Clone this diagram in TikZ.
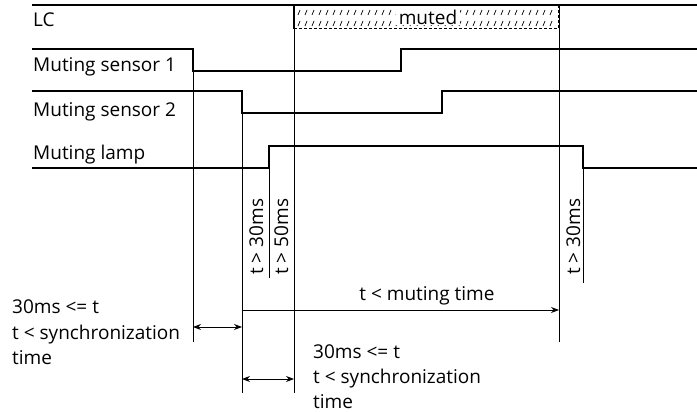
\documentclass[tikz,border=0pt]{standalone}
\usepackage{fontspec}
\setmainfont{Open Sans}
\usetikzlibrary{arrows.meta}
\tikzset{
  sig/.style={line width=1.8pt},
  vline/.style={line width=0.8pt},
  txt/.style={font=\fontsize{19}{22}\selectfont, inner sep=0pt},
  lbl/.style={txt, anchor=base west},
  rlbl/.style={txt, anchor=base west, rotate=90},
  dim/.style={line width=0.9pt, {Stealth[length=8pt,width=6pt]}-{Stealth[length=8pt,width=6pt]}},
  dimr/.style={line width=0.9pt, -{Stealth[length=8pt,width=6pt]}},
  hatch/.style={line width=0.7pt}
}
\begin{document}
\begin{tikzpicture}[x=1pt,y={(0pt,-1pt)}]
\useasboundingbox (0,0) rectangle (697,412);
\fill[white] (0,0) rectangle (697,412);
% key coordinates
\coordinate (A) at (193,0);
\coordinate (B) at (242,0);
\coordinate (C) at (269,0);
\coordinate (D) at (294,0);
\coordinate (E) at (559,0);
\coordinate (F) at (583,0);
% hatch in muted box
\foreach \x in {298,305,...,552} {
  \draw[hatch] (\x,15) -- (\x+2,10);
  \draw[hatch] (\x,26) -- (\x+2,21);
}
\node[txt, fill=white, inner xsep=3pt, inner ysep=1pt] (muted) at (428,17) {muted};
\draw[line width=1.2pt, dash pattern=on 3pt off 2pt] (294,28.5) -- (559,28.5);
\draw[line width=0.6pt, dash pattern=on 3pt off 2pt] (558,5) -- (558,28.5);
\draw[line width=1.8pt] (294,5) -- (294,29);
% vertical reference lines
\draw[vline] (A |- 0,49) -- (A |- 0,342);
\draw[vline] (B |- 0,91) -- (B |- 0,393);
\draw[vline] (C |- 0,146) -- (C |- 0,278);
\draw[vline] (D |- 0,5) -- (D |- 0,393);
\draw[vline] (E |- 0,5) -- (E |- 0,342);
\draw[vline] (F |- 0,146) -- (F |- 0,283);
% signals
\draw[sig] (32,5) -- (697,5);
\draw[sig] (32,49) -| (A |- 0,71) -- (401,71) |- (697,49);
\draw[sig] (32,91) -| (B |- 0,113) -- (442,113) |- (697,91);
\draw[sig] (32,168) -| (C |- 0,146) -- (F |- 0,146) |- (697,168);
% labels
\node[lbl] (lc) at (33,27) {LC};
\node[lbl] (ms1) at (33,72) {Muting sensor 1};
\node[lbl] (ms2) at (33,117) {Muting sensor 2};
\node[lbl] (ml) at (33,159) {Muting lamp};
\node[rlbl] (r1) at (263,275) {t > 30ms};
\node[rlbl] (r2) at (288,275) {t > 50ms};
\node[rlbl] (r3) at (580,275) {t > 30ms};
% dimension arrows
\draw[dimr] (B |- 0,310) -- (E |- 0,310);
\node[txt, anchor=base] (mt) at (427,300) {t < muting time};
\draw[dim] (A |- 0,327) -- (B |- 0,327);
\draw[dim] (B |- 0,379) -- (D |- 0,379);
\node[lbl] (l1) at (12,313) {30ms <= t};
\node[lbl] (l2) at (12,339) {t < synchronization};
\node[lbl] (l3) at (12,364) {time};
\node[lbl] (b1) at (313,358) {30ms <= t};
\node[lbl] (b2) at (313,383) {t < synchronization};
\node[lbl] (b3) at (313,408) {time};
\end{tikzpicture}
\end{document}
